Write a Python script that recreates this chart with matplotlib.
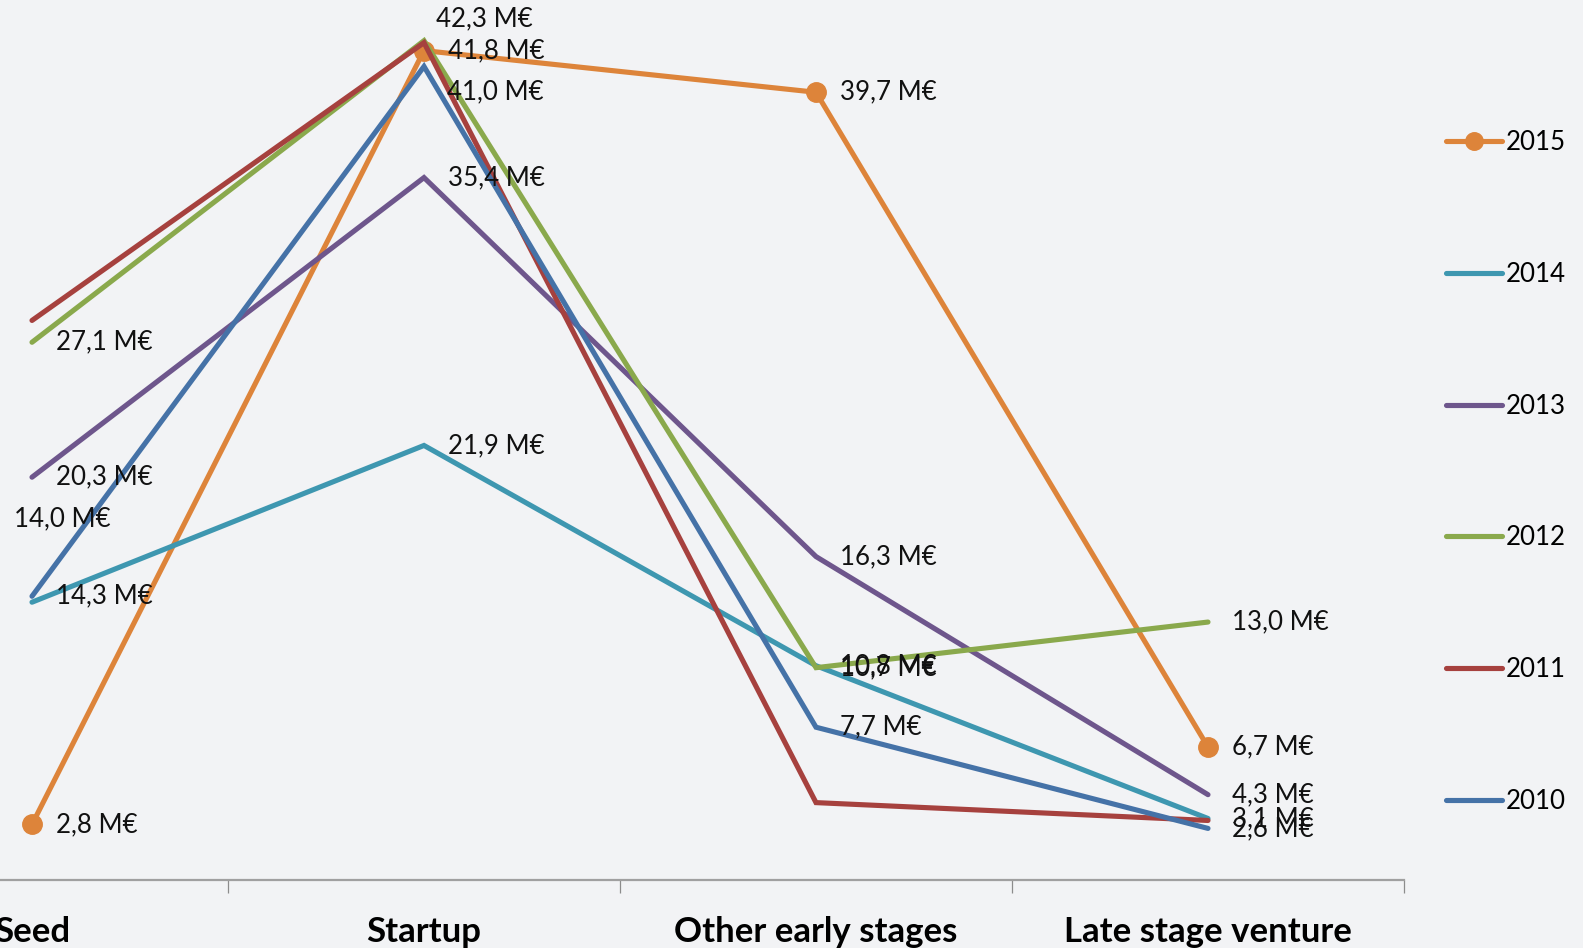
import matplotlib
matplotlib.use("Agg")
import matplotlib.pyplot as plt

plt.rcParams['font.family'] = ['Lato', 'DejaVu Sans']

# Data (millions of euros)
categories = ['Seed', 'Startup', 'Other early stages', 'Late stage venture']
years = ['2015', '2014', '2013', '2012', '2011', '2010']
v2015 = [2.8, 41.8, 39.7, 6.7]
v2014 = [14.0, 21.9, 10.8, 3.1]
v2013 = [20.3, 35.4, 16.3, 4.3]
v2012 = [27.1, 42.3, 10.7, 13.0]
v2011 = [28.2, 42.2, 3.9, 3.0]
v2010 = [14.3, 41.0, 7.7, 2.6]

series = [v2015, v2014, v2013, v2012, v2011, v2010]
colors = ['#DD843A', '#3E97B0', '#6E568C', '#8AA94C', '#A6413E', '#4572A7']
show_labels = [True, True, True, True, False, True]

# label offsets in pixels that differ from the default (right of the point)
label_moves = {
    ('2012', 1): (12, 22, 'left'),
    ('2010', 1): (23, -25, 'left'),
    ('2014', 0): (30, 83, 'center'),
}

bg = '#F2F3F5'


def fmt(v):
    return f"{v:.1f}".replace('.', ',') + " M€"


def main():
    fig = plt.figure(figsize=(15.83, 9.48), dpi=100, facecolor=bg)
    ax = fig.add_axes([-164 / 1583, 68 / 948, 1568 / 1583, 880 / 948])
    ax.set_facecolor(bg)

    x = list(range(len(categories)))
    handles = []
    for year, vals, col, lab in zip(years, series, colors, show_labels):
        marker = 'o' if year == '2015' else None
        line, = ax.plot(x, vals, color=col, lw=3.7, marker=marker, ms=14,
                        solid_capstyle='round', solid_joinstyle='miter',
                        clip_on=False, label=year)
        handles.append(line)
        if not lab:
            continue
        for i, v in enumerate(vals):
            dx, dy, ha = label_moves.get((year, i), (24, 0, 'left'))
            ax.annotate(fmt(v), (i, v), xytext=(dx, dy), textcoords='offset pixels',
                        ha=ha, va='center', fontsize=18.6, color='#111111',
                        annotation_clip=False)

    ax.set_xlim(-0.5, 3.5)
    ax.set_ylim(0, 44.35)

    # category axis
    ax.set_xticks(x)
    ax.set_xticklabels(categories, fontsize=25, fontweight='bold')
    ax.set_xticks([-0.5, 0.5, 1.5, 2.5, 3.5], minor=True)
    ax.tick_params(axis='x', which='major', length=0, pad=26)
    ax.tick_params(axis='x', which='minor', length=9.4, width=0.9,
                   color='#8C8C8C', direction='out')
    ax.set_yticks([])
    for s in ['left', 'right', 'top']:
        ax.spines[s].set_visible(False)
    ax.spines['bottom'].set_color('#A0A0A0')
    ax.spines['bottom'].set_linewidth(1.6)

    fig.legend(handles=handles, loc='center left',
               bbox_to_anchor=(1446 / 1583, 1 - 472 / 948),
               frameon=False, fontsize=18.6, handlelength=2.17,
               handletextpad=0.16, labelspacing=4.13, borderpad=0,
               borderaxespad=0, numpoints=1, markerscale=0.9)

    fig.savefig('out.png', dpi=100, facecolor=bg)


if __name__ == "__main__":
    main()
